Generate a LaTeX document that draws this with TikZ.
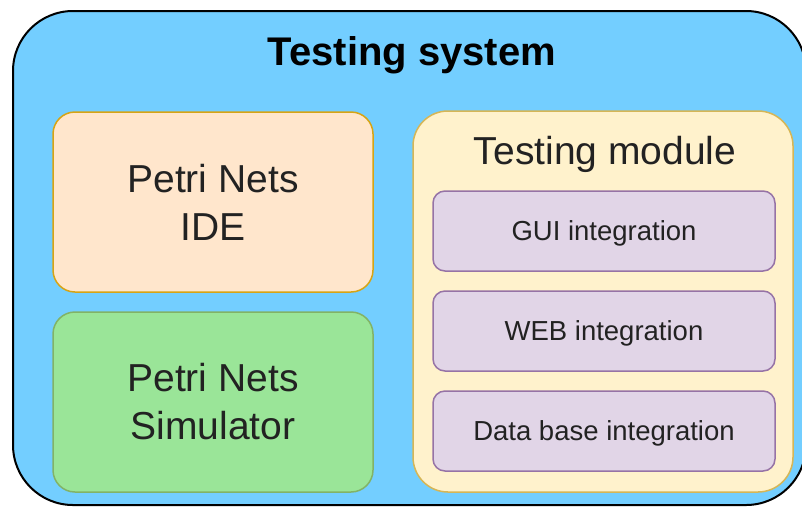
\documentclass[tikz,border=0pt]{standalone}
\usepackage{fontspec}
\setmainfont{Liberation Sans}
\usetikzlibrary{positioning}

\begin{document}
\begin{tikzpicture}[x=1pt,y=-1pt,
    box/.style={draw, rounded corners=#1, line width=1.5pt, inner sep=0pt},
    item/.style={box=12pt, fill=itemfill, draw=itemline, minimum width=342pt, minimum height=80pt, text depth=0pt, font=\fontsize{27.5}{33}\selectfont, text=textgray}]
    % Define colors for the blocks
    \definecolor{sysfill}{RGB}{115,206,255}
    \definecolor{idefill}{RGB}{255,230,204}
    \definecolor{ideline}{RGB}{215,164,20}
    \definecolor{simfill}{RGB}{154,229,152}
    \definecolor{simline}{RGB}{130,179,102}
    \definecolor{modfill}{RGB}{255,242,204}
    \definecolor{modline}{RGB}{214,182,86}
    \definecolor{itemfill}{RGB}{225,213,231}
    \definecolor{itemline}{RGB}{150,115,166}
    \definecolor{textgray}{RGB}{34,34,34}

    \clip (0,0) rectangle (802,507);

    % Testing system (outer block)
    \node[box=60pt, fill=sysfill, draw=black, line width=2pt, minimum width=793pt, minimum height=494pt] (system) at (409.5,258) {};
    \node[font=\fontsize{40}{48}\selectfont\bfseries] (systitle) at (412,55) {Testing system};

    % Petri Nets IDE
    \node[box=22pt, fill=idefill, draw=ideline, minimum width=320pt, minimum height=180pt, align=center, font=\fontsize{39}{48}\selectfont, text=textgray] (ide) at (213,202) {Petri Nets\\IDE};

    % Petri Nets Simulator
    \node[box=22pt, fill=simfill, draw=simline, minimum width=320pt, minimum height=180pt, align=center, font=\fontsize{39}{48}\selectfont, text=textgray] (sim) at (213,402) {Petri Nets\\Simulator};

    % Testing module
    \node[box=35pt, fill=modfill, draw=modline, minimum width=380pt, minimum height=381pt] (module) at (603,301.5) {};
    \node[font=\fontsize{39}{48}\selectfont, text=textgray] (modtitle) at (605,154) {Testing module};

    % Integrations
    \node[item] (gui) at (604,231) {GUI integration};
    \node[item] (web) at (604,331) {WEB integration};
    \node[item] (db) at (604,431) {Data base integration};

\end{tikzpicture}
\end{document}
